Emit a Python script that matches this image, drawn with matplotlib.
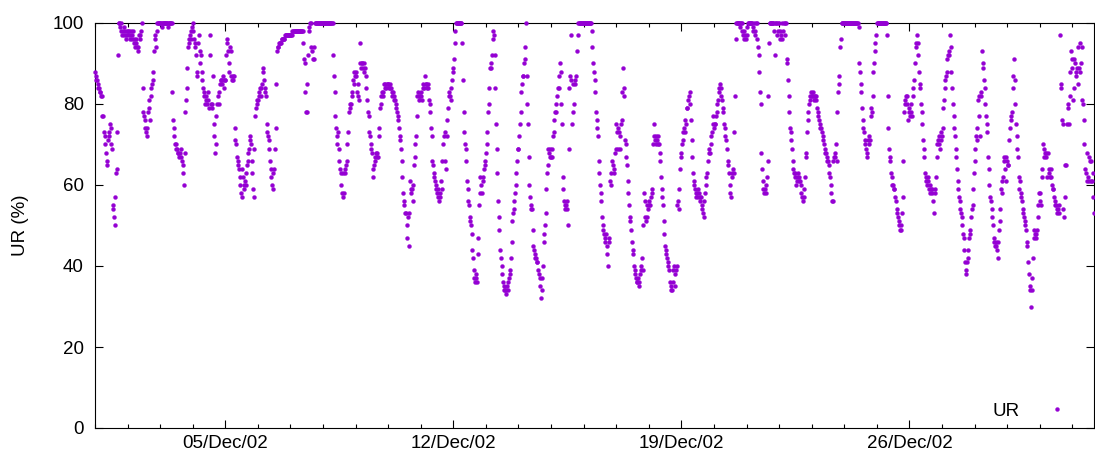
import numpy as np
import matplotlib
matplotlib.use("Agg")
import matplotlib.pyplot as plt
import matplotlib.dates as mdates

# Relative humidity (%) every 30 minutes, one list per day
dec01 = [88,87,86,86,85,84,84,83,83,82,82,77,77,73,72,70,68,66,65,71,72,73,75,74,70,69,55,54,52,50,57,63,64,73,92,100,100,99,100,98,97,98,99,97,98,96,97,98]
dec02 = [98,97,98,96,97,98,96,97,98,96,95,94,96,95,94,93,94,97,96,97,98,100,84,78,77,76,74,73,72,74,78,79,81,76,84,82,85,86,88,93,96,97,94,98,100,100,100,100]
dec03 = [100,100,100,99,100,100,100,100,100,100,100,100,99,100,100,100,100,100,83,76,74,72,70,70,69,69,68,68,67,68,69,67,66,65,63,60,68,78,81,84,89,94,95,96,97,96,98,99]
dec04 = [100,98,96,95,94,92,88,87,95,97,93,90,92,88,86,84,83,82,80,81,82,80,83,81,79,97,92,80,79,80,87,75,72,68,70,77,80,82,83,80,85,86,86,85,86,87,84,86]
dec05 = [86,92,96,95,93,90,88,94,93,87,86,87,86,87,74,71,70,67,66,65,64,62,60,58,64,57,62,60,59,61,63,60,65,66,68,69,71,72,70,66,63,59,57,69,77,79,80,81]
dec06 = [81,82,83,84,84,82,85,89,88,86,83,84,82,75,73,72,71,69,66,64,62,60,59,63,64,69,74,85,93,94,94,95,95,95,95,96,96,96,96,96,97,97,97,97,97,97,97,97]
dec07 = [97,97,97,98,98,98,98,98,98,98,98,98,98,98,98,98,98,98,98,95,91,90,83,78,78,85,92,99,98,100,100,94,93,91,91,94,100,100,100,100,100,100,100,100,100,100,100,100]
dec08 = [100,100,100,100,100,100,100,100,100,100,100,100,100,100,100,92,87,83,77,74,72,70,73,69,66,64,63,60,58,57,63,58,63,64,65,66,70,73,78,80,79,80,82,83,86,85,88,87]
dec09 = [87,88,83,82,85,81,95,90,89,90,90,89,90,88,89,87,84,81,78,77,73,72,70,69,68,64,62,65,67,66,68,67,68,67,72,74,79,80,82,83,82,83,85,84,85,84,85,85]
dec10 = [85,84,85,84,84,83,82,83,81,82,81,80,79,78,77,76,74,72,71,69,66,62,58,56,55,53,53,50,47,52,45,53,61,59,58,59,56,60,65,67,70,72,77,82,83,82,81,82]
dec11 = [82,83,81,84,85,84,87,85,85,84,85,84,81,80,78,74,72,66,65,63,62,61,60,59,58,59,57,56,58,57,61,59,66,70,72,73,66,64,72,76,79,82,83,82,81,84,86,88]
dec12 = [89,91,95,98,100,100,100,100,100,100,100,100,100,95,86,78,73,70,69,66,61,59,56,55,52,51,50,48,44,42,39,37,36,37,38,36,43,47,55,58,62,60,58,61,62,64,65,66]
dec13 = [68,70,73,78,80,84,89,89,90,92,96,98,97,92,84,75,69,63,56,52,49,44,42,40,38,36,35,34,34,33,34,35,34,36,37,38,39,42,46,51,53,54,56,58,60,63,66,69]
dec14 = [69,72,75,78,83,85,87,87,90,91,94,100,87,80,75,67,60,57,55,54,54,49,45,44,43,42,42,41,41,39,38,37,35,32,34,37,40,46,48,50,53,59,63,65,69,68,67,69]
dec15 = [67,67,69,72,73,76,78,78,80,82,84,87,84,90,88,80,75,62,59,56,55,54,55,56,54,50,69,84,87,97,86,75,85,78,80,86,85,87,93,97,100,100,100,100,100,100,100,100]
dec16 = [100,100,100,100,100,100,100,100,100,100,100,100,98,94,90,88,86,83,78,76,74,72,66,63,60,58,56,52,50,49,48,47,46,48,45,43,40,46,47,61,60,63,66,65,64,63,68,69]
dec17 = [75,73,69,74,73,69,72,75,76,83,89,82,84,71,70,67,65,61,58,55,52,51,49,46,44,43,40,39,38,37,36,36,37,35,36,38,39,40,42,39,50,58,56,52,51,52,55,54]
dec18 = [56,55,55,57,58,59,70,75,72,71,70,72,71,72,70,70,68,66,62,59,57,55,51,48,45,44,43,42,41,40,39,36,35,34,34,36,39,40,35,38,39,40,55,56,54,59,64,67]
dec19 = [68,70,71,73,74,73,76,75,79,79,81,82,83,80,76,71,67,63,61,60,59,58,57,58,59,57,58,57,56,57,55,54,53,52,56,58,60,62,63,66,68,69,68,70,72,73,77,75]
dec20 = [74,75,75,77,78,80,81,84,83,85,84,82,81,79,78,75,74,72,71,69,66,65,63,58,60,57,63,62,64,63,73,82,96,100,100,100,100,100,99,100,100,100,98,97,96,98,97,96]
dec21 = [97,99,100,100,100,100,100,100,100,99,98,100,97,98,100,100,96,94,92,88,83,80,68,64,61,59,58,59,58,60,62,66,82,95,100,100,100,100,100,100,98,100,92,100,100,97,98,100]
dec22 = [100,98,96,97,100,96,98,100,100,97,100,91,90,86,82,78,74,73,71,69,66,64,63,62,63,60,62,61,63,61,62,61,60,58,57,56,57,59,62,67,68,73,76,78,80,81,82,83]
dec23 = [82,82,83,82,81,82,82,81,79,78,77,76,75,74,74,73,72,71,70,69,68,68,67,66,66,65,63,62,60,58,56,56,66,67,68,67,70,66,78,83,85,87,94,96,100,100,100,100]
dec24 = [100,100,100,100,100,100,100,100,100,100,100,100,100,100,100,100,100,100,100,100,100,99,90,88,85,83,79,76,74,73,71,70,69,68,67,71,70,72,71,77,79,78,82,88,90,93,95,97]
dec25 = [100,100,100,100,100,100,100,100,100,100,100,100,100,100,100,97,82,74,69,67,66,63,62,60,60,59,59,57,56,54,53,52,51,50,49,49,50,53,57,66,78,80,81,82,80,82,76,78]
dec26 = [79,77,80,78,77,82,84,86,90,95,94,97,95,92,88,85,84,80,78,75,71,69,67,63,62,61,60,62,61,59,58,60,59,58,59,56,53,58,59,62,67,70,71,72,70,69,71,73]
dec27 = [72,74,79,81,84,86,87,88,91,92,93,92,97,94,88,84,80,77,74,72,69,67,64,61,59,57,56,54,53,52,50,48,47,44,41,39,38,41,42,44,47,48,49,52,54,55,59,63]
dec28 = [66,69,72,74,71,81,77,82,72,82,83,93,90,89,86,84,80,77,75,73,67,64,60,57,56,54,52,50,47,46,45,45,46,44,42,46,49,51,54,59,58,61,62,66,67,64,61,67]
dec29 = [66,65,65,71,74,77,76,78,84,87,91,86,80,75,72,69,67,62,59,61,58,57,56,54,53,52,51,50,49,46,45,41,38,35,34,30,34,37,42,47,49,48,48,47,49,52,55,58]
dec30 = [56,58,55,62,64,70,67,69,68,68,67,62,68,64,63,62,64,62,60,59,59,57,56,55,55,54,53,54,53,55,97,85,84,76,75,54,52,65,57,65,75,80,79,75,82,88,93,89]
dec31 = [91,81,84,91,90,88,87,89,85,94,89,95,88,90,94,81,80,76,70,64,63,61,68,62,67,61,66,61,66,61,63,57,53]

days = [dec01, dec02, dec03, dec04, dec05, dec06, dec07, dec08, dec09, dec10,
        dec11, dec12, dec13, dec14, dec15, dec16, dec17, dec18, dec19, dec20,
        dec21, dec22, dec23, dec24, dec25, dec26, dec27, dec28, dec29, dec30, dec31]
ur = np.concatenate([np.array(d, dtype=float) for d in days])

start = np.datetime64("2002-12-01T00:00")
times = start + np.arange(len(ur)) * np.timedelta64(30, "m")

major_days = [5, 12, 19, 26]
y_ticks = [0, 20, 40, 60, 80, 100]
series_label = "UR"
y_label = "UR (%)"

plt.rcParams["font.family"] = ["Liberation Sans", "DejaVu Sans"]
plt.rcParams["font.size"] = 13.5

fig = plt.figure(figsize=(10.95, 4.57), dpi=100)
ax = fig.add_axes([95/1095, 1 - 428/457, 999/1095, 405/457])

ax.plot(times, ur, linestyle="none", marker="o", ms=2.8, color="#9400D3",
        mec="#9400D3", mew=0.3, label=series_label, clip_on=False, zorder=3)

ax.set_xlim(start, np.datetime64("2002-12-31T16:00"))
ax.set_ylim(0, 100)
ax.set_yticks(y_ticks)

ax.xaxis.set_major_locator(mdates.DayLocator(bymonthday=major_days))
ax.xaxis.set_major_formatter(mdates.DateFormatter("%d/%b/%y"))
ax.xaxis.set_minor_locator(mdates.DayLocator())

ax.tick_params(which="both", direction="in", top=True, right=True, width=0.8, colors="black")
ax.tick_params(which="major", length=5.8)
ax.tick_params(which="minor", length=2.9)
ax.tick_params(axis="x", which="major", pad=5)
ax.tick_params(axis="y", which="major", pad=8)
ax.yaxis.set_minor_locator(matplotlib.ticker.NullLocator())

for s in ax.spines.values():
    s.set_linewidth(0.8)
    s.set_color("black")

ax.set_ylabel(y_label)
ax.yaxis.set_label_coords(-0.066, 0.5)

ax.legend(loc="lower right", frameon=False, markerfirst=False, handlelength=3,
          handletextpad=0.5, borderaxespad=0.05, markerscale=1.0)

fig.savefig("out.png", dpi=100)
